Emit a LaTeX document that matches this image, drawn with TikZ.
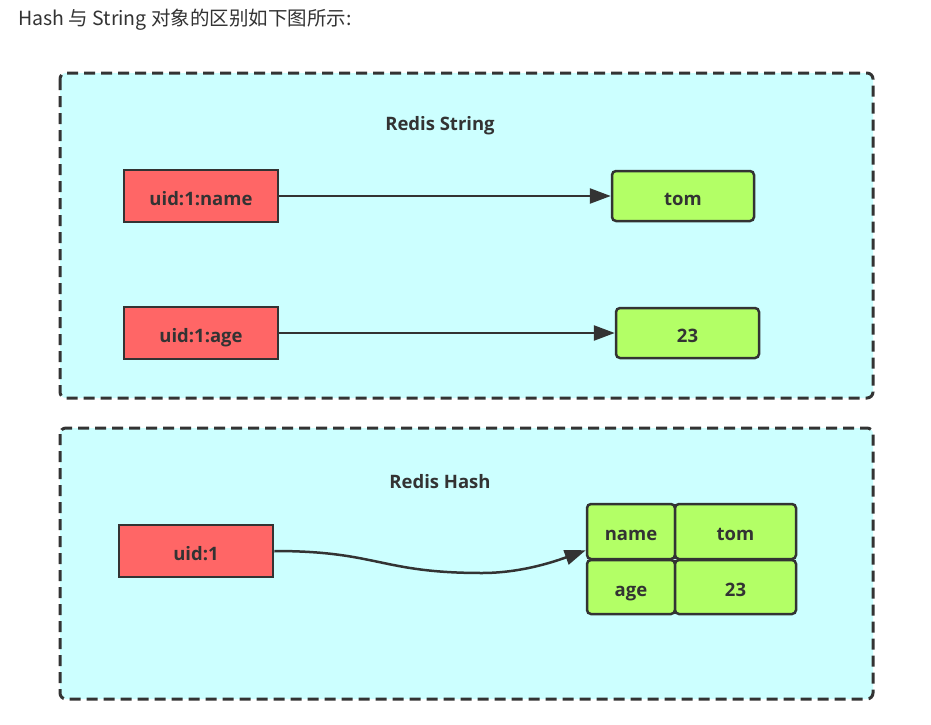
\documentclass[tikz,border=0pt]{standalone}
\usepackage{fontspec}
\setmainfont{Open Sans}
\newfontfamily\cjkfont{Noto Sans CJK SC}
\usetikzlibrary{arrows.meta}
\definecolor{ink}{HTML}{333333}
\definecolor{panelfill}{HTML}{CCFFFF}
\definecolor{keyfill}{HTML}{FF6666}
\definecolor{valfill}{HTML}{B3FF66}
\begin{document}
\begin{tikzpicture}[x=1pt,y=-1pt,
  lbl/.style={text=ink, inner sep=0pt, font=\fontsize{18.5}{20}\selectfont\bfseries},
  boxlbl/.style={lbl, text height=20pt, text depth=2pt},
  panel/.style={draw=ink, fill=panelfill, line width=3pt, dash pattern=on 11pt off 6pt, rounded corners=6pt},
  keybox/.style={boxlbl, draw=ink, fill=keyfill, line width=2.5pt, minimum width=154pt, minimum height=52pt},
  valbox/.style={boxlbl, draw=ink, fill=valfill, line width=2.5pt, rounded corners=4pt},
  arr/.style={draw=ink, line width=2.5pt, -{Triangle[length=21pt,width=15pt]}}
]
\useasboundingbox (0,0) rectangle (931,725);
\fill[white] (0,0) rectangle (931,725);

\node[anchor=base west, inner sep=0pt, text=ink, font=\cjkfont\fontsize{19.5}{22}\selectfont] (title) at (18,26) {Hash 与 String 对象的区别如下图所示:};

% panels
\draw[panel] (60,73) rectangle (873,398);
\draw[panel] (60,428) rectangle (873,699);

\node[lbl, anchor=base] (t1) at (440,130) {Redis String};
\node[lbl, anchor=base] (t2) at (440,488) {Redis Hash};

% string part
\node[keybox] (k1) at (201,196) {uid:1:name};
\node[valbox, minimum width=142pt, minimum height=50pt] (v1) at (683,196) {tom};
\node[keybox] (k2) at (201,333) {uid:1:age};
\node[valbox, minimum width=143pt, minimum height=50pt] (v2) at (687.5,333) {23};

\draw[arr] (k1.east) -- (v1.west);
\draw[arr] (k2.east) -- (v2.west);

% hash part
\node[keybox] (k3) at (196,551) {uid:1};
\node[valbox, minimum width=88pt, minimum height=55pt] (hn) at (631,531.5) {name};
\node[valbox, minimum width=121pt, minimum height=55pt] (ht) at (735.5,531.5) {tom};
\node[valbox, minimum width=88pt, minimum height=54pt] (ha) at (631,587) {age};
\node[valbox, minimum width=121pt, minimum height=54pt] (h23) at (735.5,587) {23};

\coordinate (tgt) at ([yshift=10pt]hn.south west);
\coordinate (mid) at (482,573);
\draw[arr] (k3.east) .. controls (378,551) and (380,573) .. (mid) .. controls (522,573) and (556,561) .. (tgt);
\end{tikzpicture}
\end{document}
